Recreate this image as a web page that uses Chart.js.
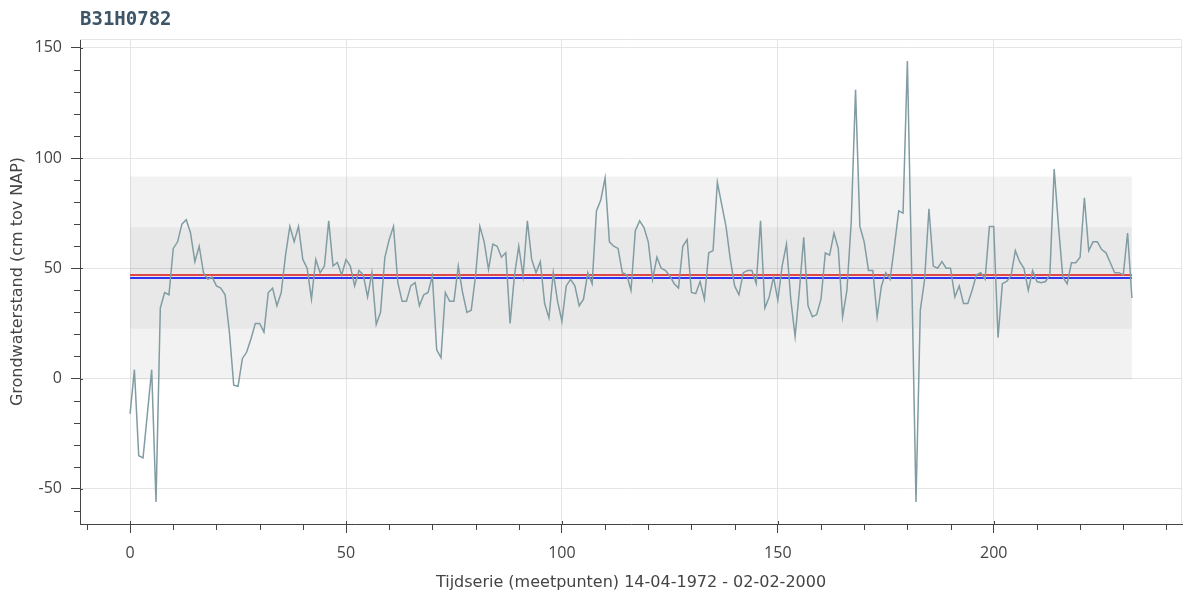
<!DOCTYPE html>
<html>
<head>
<meta charset="utf-8">
<script src="https://cdn.jsdelivr.net/npm/chart.js@4.4.1/dist/chart.umd.min.js"></script>
<style>
  html, body { margin: 0; padding: 0; background: #fff; }
  #wrap { width: 1184px; height: 599px; position: relative; }
</style>
</head>
<body>
<div id="wrap"><canvas id="chart" width="1184" height="599"></canvas></div>
<script>
// grondwaterstand per meetpunt (cm tov NAP)
var grondwaterstand = [
    -16, 4, -35, -36, -16, 4, -56, 32, 39, 38,
    59, 62, 70, 72, 66, 53, 60, 48, 45, 46,
    42, 41, 38, 21, -3, -3.5, 9, 12, 18, 25,
    25, 21, 39, 41, 33, 39, 56, 69, 62, 69,
    54, 50, 36, 54, 48, 51, 71.5, 51, 52.6, 47,
    54, 51, 42, 49, 47, 37, 48, 24.5, 30, 55,
    63, 69, 43.5, 35, 35, 42, 43.5, 33, 38, 39,
    46.5, 13, 9.5, 39, 35, 35, 51, 39, 30, 31,
    46.5, 69, 62, 49.5, 61, 60, 55, 57, 25, 46.5,
    60, 46.5, 71.5, 54, 48, 53, 34, 27.5, 48, 35,
    26, 42, 45, 42, 33, 36, 48, 43, 76, 81,
    91, 62, 60, 59, 48, 47, 40, 67, 71.5, 68.5,
    62, 45, 55, 50, 49, 46.5, 43, 41, 60, 63,
    39, 38.5, 44, 36, 57, 58, 89, 79, 69, 54,
    42, 38, 48, 49, 49, 43, 71.5, 32, 37, 46,
    35.5, 51, 61, 36, 19, 40, 64, 33, 28, 29,
    36, 57, 56, 66, 59, 28, 40, 71, 131, 69,
    62, 49, 49, 28, 42, 48, 45, 60, 76, 75,
    144, 48, -56, 31, 45, 77, 51, 50, 53, 50,
    50, 37, 42, 34, 34, 40, 47, 48, 45, 69,
    69, 18.5, 43, 44, 46.5, 58, 53, 50, 40, 49,
    44, 43.5, 44, 47, 95, 69, 46, 43, 52.5, 52.5,
    55, 82, 58, 62, 62, 58.5, 57, 52.5, 48, 48,
    47, 66, 36.5
];

var gemiddelde = 45.6;      // blauwe lijn
var mediaan = 47;           // rode lijn
var bandBuiten = [-0.4, 91.6];   // gemiddelde +/- 2 sd
var bandBinnen = [22.6, 68.6];   // gemiddelde +/- 1 sd

var xTicks = [0, 50, 100, 150, 200];
var yTicks = [-50, 0, 50, 100, 150];
var xRange = [-11.6, 243.6];
var yRange = [-66, 154];

var titel = "B31H0782";
var xTitel = "Tijdserie (meetpunten) 14-04-1972 - 02-02-2000";
var yTitel = "Grondwaterstand (cm tov NAP)";

var lastIndex = grondwaterstand.length - 1;
var reeks = grondwaterstand.map(function (v, i) { return {x: i, y: v}; });
var horizontaal = function (y) { return [{x: 0, y: y}, {x: lastIndex, y: y}]; };

Chart.defaults.font.family = "'Open Sans', sans-serif";
Chart.defaults.color = "#444";

// minor ticks, inner part of major ticks, frame outline and title
var bokehAxes = {
    id: "bokehAxes",
    afterDraw: function (chart) {
        var ctx = chart.ctx;
        var area = chart.chartArea;
        var xs = chart.scales.x, ys = chart.scales.y;
        ctx.save();
        ctx.strokeStyle = "#e5e5e5";
        ctx.lineWidth = 1;
        ctx.beginPath();
        ctx.moveTo(area.left, area.top + 0.5);
        ctx.lineTo(area.right - 0.5, area.top + 0.5);
        ctx.lineTo(area.right - 0.5, area.bottom);
        ctx.stroke();

        ctx.strokeStyle = "#444";
        ctx.beginPath();
        var v, p;
        for (v = -10; v <= xRange[1]; v += 10) {
            p = Math.round(xs.getPixelForValue(v)) + 0.5;
            if (v % 50 === 0) {
                ctx.moveTo(p, area.bottom);
                ctx.lineTo(p, area.bottom - 3);
            } else {
                ctx.moveTo(p, area.bottom);
                ctx.lineTo(p, area.bottom + 6);
            }
        }
        for (v = -60; v <= yRange[1]; v += 10) {
            p = Math.round(ys.getPixelForValue(v)) + 0.5;
            if (v % 50 === 0) {
                ctx.moveTo(area.left, p);
                ctx.lineTo(area.left + 3, p);
            } else {
                ctx.moveTo(area.left, p);
                ctx.lineTo(area.left - 6, p);
            }
        }
        ctx.stroke();

        ctx.fillStyle = "#3d5566";
        ctx.font = "bold 19px 'DejaVu Sans Mono'";
        ctx.textBaseline = "middle";
        ctx.textAlign = "left";
        ctx.fillText(titel, area.left, 20);
        ctx.restore();
    }
};

var ctx = document.getElementById("chart").getContext("2d");
new Chart(ctx, {
    type: "line",
    data: {
        datasets: [
            {
                label: "grondwaterstand",
                data: reeks,
                borderColor: "#819ca2",
                borderWidth: 1.5,
                pointRadius: 0,
                tension: 0,
                fill: false,
                order: 0
            },
            {
                label: "mediaan",
                data: horizontaal(mediaan),
                borderColor: "rgba(225,40,40,0.85)",
                borderWidth: 2,
                pointRadius: 0,
                fill: false,
                order: 1
            },
            {
                label: "gemiddelde",
                data: horizontaal(gemiddelde),
                borderColor: "rgba(30,30,245,0.9)",
                borderWidth: 2,
                pointRadius: 0,
                fill: false,
                order: 1
            },
            {
                label: "1 sd",
                data: horizontaal(bandBinnen[1]),
                borderWidth: 0,
                borderColor: "rgba(0,0,0,0)",
                backgroundColor: "rgba(0,0,0,0.045)",
                pointRadius: 0,
                fill: {target: {value: bandBinnen[0]}},
                order: 2
            },
            {
                label: "2 sd",
                data: horizontaal(bandBuiten[1]),
                borderWidth: 0,
                borderColor: "rgba(0,0,0,0)",
                backgroundColor: "rgba(0,0,0,0.05)",
                pointRadius: 0,
                fill: {target: {value: bandBuiten[0]}},
                order: 3
            }
        ]
    },
    options: {
        responsive: false,
        animation: false,
        events: [],
        layout: {padding: {top: 39, right: 2, left: 0, bottom: 0}},
        plugins: {
            legend: {display: false},
            tooltip: {enabled: false},
            title: {display: false}
        },
        scales: {
            x: {
                type: "linear",
                min: xRange[0],
                max: xRange[1],
                afterBuildTicks: function (scale) {
                    scale.ticks = xTicks.map(function (v) { return {value: v}; });
                },
                afterFit: function (scale) { scale.height = 75; },
                grid: {color: "#e5e5e5", tickColor: "#444", tickLength: 9, lineWidth: 1},
                border: {display: true, color: "#444", width: 1},
                ticks: {font: {size: 16}, color: "#444", padding: 11, maxRotation: 0},
                title: {
                    display: true,
                    text: xTitel,
                    font: {family: "'DejaVu Sans', sans-serif", size: 16},
                    color: "#444",
                    padding: {top: 4, bottom: 7}
                }
            },
            y: {
                type: "linear",
                min: yRange[0],
                max: yRange[1],
                afterBuildTicks: function (scale) {
                    scale.ticks = yTicks.map(function (v) { return {value: v}; });
                },
                afterFit: function (scale) { scale.width = 80; },
                grid: {color: "#e5e5e5", tickColor: "#444", tickLength: 9, lineWidth: 1},
                border: {display: true, color: "#444", width: 1},
                ticks: {font: {size: 16}, color: "#444", padding: 9},
                title: {
                    display: true,
                    text: yTitel,
                    font: {family: "'DejaVu Sans', sans-serif", size: 16},
                    color: "#444",
                    padding: {top: 8, bottom: 4}
                }
            }
        }
    },
    plugins: [bokehAxes]
});
</script>
</body>
</html>
